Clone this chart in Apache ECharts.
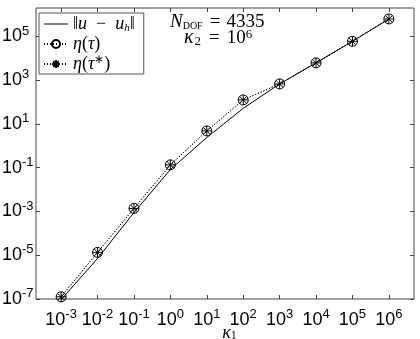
<!DOCTYPE html>
<html><head><meta charset="utf-8">
<script src="https://cdn.jsdelivr.net/npm/echarts@6/dist/echarts.min.js"></script>
<style>html,body{margin:0;padding:0;background:#fff}#c{width:420px;height:339px}</style>
</head><body><div id="c"></div>
<script>
// kappa_1 values (x), error and estimator values (y)
const kappa1 = [1e-3, 1e-2, 1e-1, 1e0, 1e1, 1e2, 1e3, 1e4, 1e5, 1e6];
const errNorm = [9.3e-8, 7.1e-6, 8.9e-4, 8.3e-2, 2.4, 52, 676, 6.2e3, 6.0e4, 6.3e5];
const etaTau = [1.26e-7, 1.35e-5, 1.38e-3, 1.35e-1, 4.8, 126, 676, 6.2e3, 6.0e4, 6.3e5];
const etaTauStar = [1.26e-7, 1.35e-5, 1.38e-3, 1.35e-1, 4.8, 126, 676, 6.2e3, 6.0e4, 6.3e5];
const xTickExp = [-3, -2, -1, 0, 1, 2, 3, 4, 5, 6];
const yTickExp = [-7, -5, -3, -1, 1, 3, 5];
const seriesNames = ['err', 'eta', 'etaStar'];

const L = Math.log10;
const pts = ys => kappa1.map((x, i) => [L(x), L(ys[i])]);

const SANS = 'Liberation Sans';
const SERIF = 'Liberation Serif';
const tickRich = {
  b: {fontFamily: SANS, fontSize: 18, color: '#000', lineHeight: 24},
  s: {fontFamily: SANS, fontSize: 13, color: '#000', verticalAlign: 'top', lineHeight: 12}
};
const fmtPow = v => '{b|10}{s|' + Math.round(v) + '}';
const asterisk = 'path://M5 0L5 10M0 5L10 5M1.5 1.5L8.5 8.5M1.5 8.5L8.5 1.5';
const lineIcon = 'path://M0 0L0.01 0L0 0.01Z M0 4.5L24 4.5L24 5.5L0 5.5Z M24 10L23.99 10L24 9.99Z';

const legendRich = {
  n: {fontFamily: SERIF, fontSize: 18, color: '#000'},
  i: {fontFamily: SERIF, fontSize: 18, fontStyle: 'italic', color: '#000'},
  sub: {fontFamily: SERIF, fontSize: 11, fontStyle: 'italic', color: '#000', verticalAlign: 'bottom', lineHeight: 14},
  sup: {fontFamily: SERIF, fontSize: 12, color: '#000', verticalAlign: 'top', lineHeight: 14}
};
const legendText = {
  err: '{n|‖}{i|u}{n|  −  }{i|u}{sub|h}{n|‖}',
  eta: '{i|η}{n|(}{i|τ}{n|)}',
  etaStar: '{i|η}{n|(}{i|τ}{sup|∗}{n|)}'
};
const annRich = {
  n: {fontFamily: SERIF, fontSize: 19, color: '#000'},
  eq: {fontFamily: SERIF, fontSize: 19, color: '#000', padding: [0, 6, 0, 7]},
  eq2: {fontFamily: SERIF, fontSize: 19, color: '#000', padding: [0, 7, 0, 8]},
  i: {fontFamily: SERIF, fontSize: 19, fontStyle: 'italic', color: '#000'},
  k: {fontFamily: SERIF, fontSize: 20, fontStyle: 'italic', color: '#000'},
  sub: {fontFamily: SERIF, fontSize: 10, color: '#000', verticalAlign: 'bottom', lineHeight: 16},
  sub2: {fontFamily: SERIF, fontSize: 13, color: '#000', verticalAlign: 'bottom', lineHeight: 14, padding: [0, 0, 0, 1]},
  sup: {fontFamily: SERIF, fontSize: 13, color: '#000', verticalAlign: 'top', lineHeight: 16}
};

const axisCol = '#444';
const chart = echarts.init(document.getElementById('c'), null, {renderer: 'canvas'});
chart.setOption({
  animation: false,
  backgroundColor: '#fff',
  grid: {left: 36, right: 6, top: 8, bottom: 40, show: true, borderColor: axisCol, borderWidth: 1,
    backgroundColor: '#fff', outerBoundsMode: 'none', containLabel: false},
  xAxis: [{
    type: 'value', min: -3.69, max: 6.69,
    axisLine: {show: false, onZero: false},
    splitLine: {show: false},
    axisTick: {inside: true, length: 4, lineStyle: {color: axisCol}, customValues: xTickExp},
    axisLabel: {formatter: fmtPow, rich: tickRich, margin: 9, customValues: xTickExp},
    name: '{i|κ}{sub|1}', nameLocation: 'middle', nameGap: 25, nameMoveOverlap: false,
    nameTextStyle: {rich: {
      i: {fontFamily: SERIF, fontSize: 18, fontStyle: 'italic', color: '#000'},
      sub: {fontFamily: SERIF, fontSize: 12, color: '#000', verticalAlign: 'bottom', lineHeight: 12}
    }, padding: [0, 0, 0, 9]}
  }, {
    type: 'value', position: 'top', min: -3.69, max: 6.69,
    axisLine: {show: false, onZero: false}, splitLine: {show: false}, axisLabel: {show: false},
    axisTick: {inside: true, length: 4, lineStyle: {color: axisCol}, customValues: xTickExp}
  }],
  yAxis: [{
    type: 'value', min: -7, max: 6.3,
    axisLine: {show: false, onZero: false},
    splitLine: {show: false},
    axisTick: {inside: true, length: 4, lineStyle: {color: axisCol}, customValues: yTickExp},
    axisLabel: {formatter: fmtPow, rich: tickRich, align: 'left', margin: 34, customValues: yTickExp}
  }, {
    type: 'value', position: 'right', min: -7, max: 6.3,
    axisLine: {show: false, onZero: false}, splitLine: {show: false}, axisLabel: {show: false},
    axisTick: {inside: true, length: 4, lineStyle: {color: axisCol}, customValues: yTickExp}
  }],
  legend: {
    orient: 'vertical', left: 39, top: 13,
    padding: [1, 9, 0, 4], itemGap: 0, itemWidth: 24, itemHeight: 10, itemTextGap: 3,
    backgroundColor: '#fff', borderColor: '#555', borderWidth: 1,
    data: [{name: seriesNames[0], icon: lineIcon, itemStyle: {color: '#000', borderWidth: 0}},
           {name: seriesNames[1]}, {name: seriesNames[2]}],
    formatter: n => legendText[n],
    textStyle: {rich: legendRich, lineHeight: 20}
  },
  series: [{
    name: seriesNames[0], type: 'line', data: pts(errNorm),
    symbol: 'none', lineStyle: {color: '#000', width: 1}, itemStyle: {color: '#000'}
  }, {
    name: seriesNames[1], type: 'line', data: pts(etaTau),
    symbol: 'circle', symbolSize: 10,
    lineStyle: {color: '#000', width: 1, type: [1, 2]},
    itemStyle: {color: 'rgba(0,0,0,0)', borderColor: '#000', borderWidth: 1}
  }, {
    name: seriesNames[2], type: 'line', data: pts(etaTauStar),
    symbol: asterisk, symbolSize: 10,
    lineStyle: {color: '#000', width: 1, type: [1, 2]},
    itemStyle: {color: 'none', borderColor: '#000', borderWidth: 1}
  }],
  graphic: [{
    type: 'text', x: 170, y: 22, z: 100,
    style: {text: '{i|N}{sub|DOF}{eq|=}{n|4335}', rich: annRich, verticalAlign: 'middle', align: 'left'}
  }, {
    type: 'text', x: 184, y: 38, z: 100,
    style: {text: '{k|κ}{sub2|2}{eq2|=}{n|10}{sup|6}', rich: annRich, verticalAlign: 'middle', align: 'left'}
  }]
});
</script>
</body></html>
